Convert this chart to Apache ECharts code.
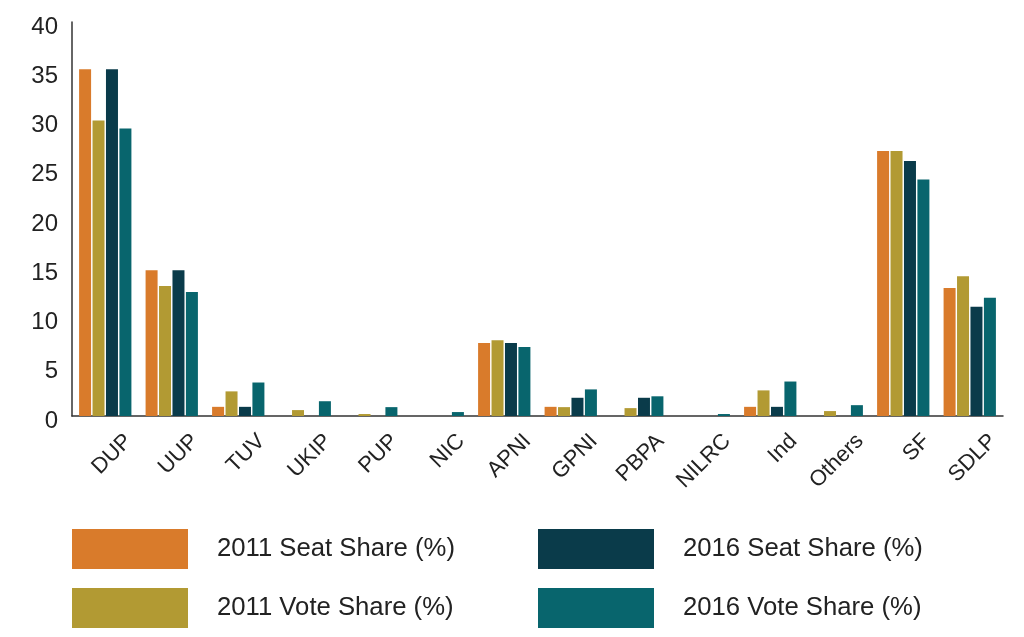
<!DOCTYPE html>
<html>
<head>
<meta charset="utf-8">
<script src="https://cdn.jsdelivr.net/npm/echarts@6/dist/echarts.min.js"></script>
<style>html,body{margin:0;padding:0;background:#fff}#c{width:1024px;height:637px}</style>
</head>
<body>
<div id="c"></div>
<script>
const categories = ['DUP','UUP','TUV','UKIP','PUP','NIC','APNI','GPNI','PBPA','NILRC','Ind','Others','SF','SDLP'];
const seat2011 = [35.2, 14.8, 0.93, 0, 0, 0, 7.4, 0.93, 0, 0, 0.93, 0, 26.9, 13.0];
const vote2011 = [30.0, 13.2, 2.5, 0.6, 0.2, 0, 7.7, 0.9, 0.8, 0, 2.6, 0.5, 26.9, 14.2];
const seat2016 = [35.2, 14.8, 0.93, 0, 0, 0, 7.4, 1.85, 1.85, 0, 0.93, 0, 25.9, 11.1];
const vote2016 = [29.2, 12.6, 3.4, 1.5, 0.9, 0.4, 7.0, 2.7, 2.0, 0.2, 3.5, 1.1, 24.0, 12.0];
const seriesNames = ['2011 Seat Share (%)','2011 Vote Share (%)','2016 Seat Share (%)','2016 Vote Share (%)'];
const colors = ['#D97B2B','#B29A33','#0A3B4A','#08656D'];
const yTicks = {min: 0, max: 40, interval: 5};

const font = 'Liberation Sans, Arial, sans-serif';
const chart = echarts.init(document.getElementById('c'), null, {renderer: 'canvas'});
const dataArr = [seat2011, vote2011, seat2016, vote2016];
const legendCommon = {
  orient: 'vertical', icon: 'rect', itemWidth: 116, itemHeight: 40, itemGap: 19, padding: 0,
  textStyle: {fontSize: 25.7, color: '#222', fontFamily: font, padding: [0,0,0,24]},
  selectedMode: false
};
chart.setOption({
  animation: false,
  color: colors,
  grid: {left: 72, right: 21, top: 22, bottom: 221, containLabel: false},
  legend: [
    Object.assign({data: [seriesNames[0], seriesNames[1]], left: 72, top: 529}, legendCommon),
    Object.assign({data: [seriesNames[2], seriesNames[3]], left: 538, top: 529}, legendCommon)
  ],
  xAxis: {
    type: 'category', data: categories,
    axisLine: {lineStyle: {color: '#333', width: 1.5}},
    axisTick: {inside: true, length: 9, lineStyle: {color: '#222', width: 1.5}},
    axisLabel: {rotate: 45, fontSize: 22, color: '#222', fontFamily: font, margin: 14, interval: 0,
      verticalAlign: 'top', padding: [11, -11, 0, 0]}
  },
  yAxis: {
    type: 'value', min: yTicks.min, max: yTicks.max, interval: yTicks.interval,
    splitLine: {show: false},
    axisLine: {show: true, lineStyle: {color: '#333', width: 1.5}},
    axisTick: {show: false},
    axisLabel: {fontSize: 24, color: '#222', fontFamily: font, margin: 14,
      verticalAlign: 'top', padding: [-7, 0, 0, 0]}
  },
  series: seriesNames.map((n, i) => ({
    name: n, type: 'bar', data: dataArr[i], barWidth: 12, barGap: '12%'
  }))
});
</script>
</body>
</html>
